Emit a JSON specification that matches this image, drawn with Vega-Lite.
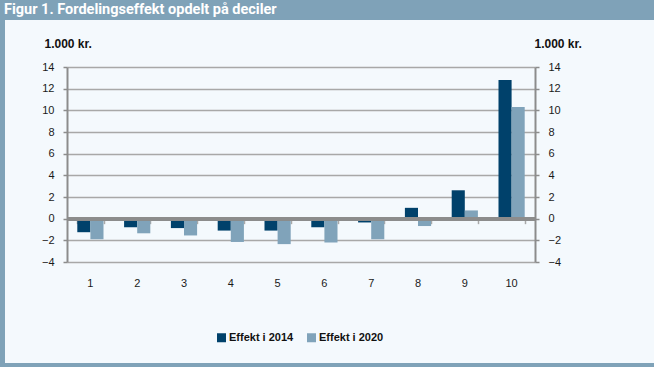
{
  "$schema": "https://vega.github.io/schema/vega-lite/v6.json",
  "background": "#f4f9fd",
  "padding": 0,
  "autosize": {"type": "pad"},
  "config": {
    "view": {"stroke": null},
    "font": "Liberation Sans",
    "axis": {"labelFont": "Liberation Sans", "titleFont": "Liberation Sans"},
    "legend": {"labelFont": "Liberation Sans"}
  },
  "spacing": 0,
  "resolve": {"scale": {"color": "independent"}, "legend": {"color": "independent"}},
  "vconcat": [
    {
      "width": 654,
      "height": 20,
      "view": {"fill": "#7fa2b8", "stroke": null},
      "data": {"values": []},
      "mark": "point",
      "title": {
        "text": "Figur 1. Fordelingseffekt opdelt på deciler",
        "anchor": "start",
        "frame": "group",
        "offset": -17,
        "dx": 4,
        "color": "#ffffff",
        "font": "Roboto",
        "fontSize": 14.5,
        "fontWeight": "bold"
      }
    },
    {
      "spacing": 0,
      "resolve": {"scale": {"color": "independent"}, "legend": {"color": "independent"}},
      "hconcat": [
        {
          "width": 5,
          "height": 343,
          "view": {"fill": "#7fa2b8", "stroke": null},
          "data": {"values": []},
          "mark": "point"
        },
        {
          "width": 36,
          "height": 1,
          "data": {"values": []},
          "mark": "point"
        },
        {
          "spacing": 0,
          "resolve": {"scale": {"color": "independent"}, "legend": {"color": "independent"}},
          "vconcat": [
            {
              "width": 1,
              "height": 17,
              "data": {"values": []},
              "mark": "point"
            },
            {
              "width": 468,
              "height": 195,
              "data": {
                "values": [
                  {"decil": 1, "serie": "Effekt i 2014", "value": -1.25},
                  {"decil": 1, "serie": "Effekt i 2020", "value": -1.9},
                  {"decil": 2, "serie": "Effekt i 2014", "value": -0.8},
                  {"decil": 2, "serie": "Effekt i 2020", "value": -1.35},
                  {"decil": 3, "serie": "Effekt i 2014", "value": -0.87},
                  {"decil": 3, "serie": "Effekt i 2020", "value": -1.55},
                  {"decil": 4, "serie": "Effekt i 2014", "value": -1.1},
                  {"decil": 4, "serie": "Effekt i 2020", "value": -2.15},
                  {"decil": 5, "serie": "Effekt i 2014", "value": -1.1},
                  {"decil": 5, "serie": "Effekt i 2020", "value": -2.35},
                  {"decil": 6, "serie": "Effekt i 2014", "value": -0.8},
                  {"decil": 6, "serie": "Effekt i 2020", "value": -2.2},
                  {"decil": 7, "serie": "Effekt i 2014", "value": -0.35},
                  {"decil": 7, "serie": "Effekt i 2020", "value": -1.9},
                  {"decil": 8, "serie": "Effekt i 2014", "value": 1.0},
                  {"decil": 8, "serie": "Effekt i 2020", "value": -0.68},
                  {"decil": 9, "serie": "Effekt i 2014", "value": 2.62},
                  {"decil": 9, "serie": "Effekt i 2020", "value": 0.76},
                  {"decil": 10, "serie": "Effekt i 2014", "value": 12.8},
                  {"decil": 10, "serie": "Effekt i 2020", "value": 10.3}
                ]
              },
              "layer": [
                {
                  "mark": {"type": "bar", "opacity": 0},
                  "encoding": {
                    "x": {
                      "field": "decil",
                      "type": "ordinal",
                      "scale": {"paddingInner": 0.44, "paddingOuter": 0.22},
                      "axis": {
                        "orient": "bottom",
                        "offset": -43.33,
                        "labels": false,
                        "domain": false,
                        "grid": false,
                        "ticks": true,
                        "tickBand": "extent",
                        "tickSize": 5,
                        "tickWidth": 1.5,
                        "tickColor": "#a8a8a8",
                        "title": null
                      }
                    }
                  }
                },
                {
                  "mark": {"type": "bar"},
                  "encoding": {
                    "x": {
                      "field": "decil",
                      "type": "ordinal",
                      "scale": {"paddingInner": 0.44, "paddingOuter": 0.22},
                      "axis": {
                        "orient": "bottom",
                        "labelAngle": 0,
                        "domain": false,
                        "ticks": false,
                        "tickSize": 0,
                        "grid": false,
                        "labelPadding": 15,
                        "labelFontSize": 11,
                        "labelColor": "#1a1a1a",
                        "title": null
                      }
                    },
                    "xOffset": {
                      "field": "serie",
                      "type": "nominal",
                      "scale": {"paddingInner": 0, "paddingOuter": 0}
                    },
                    "y": {
                      "field": "value",
                      "type": "quantitative",
                      "scale": {"domain": [-4, 14], "nice": false, "zero": false},
                      "axis": {
                        "orient": "left",
                        "values": [-4, -2, 0, 2, 4, 6, 8, 10, 12, 14],
                        "grid": true,
                        "gridColor": "#a8a8a8",
                        "gridWidth": 1.5,
                        "domain": true,
                        "domainColor": "#8c8c8c",
                        "domainWidth": 2,
                        "ticks": true,
                        "tickSize": 4,
                        "tickWidth": 1.5,
                        "tickColor": "#8c8c8c",
                        "labelPadding": 9,
                        "labelFontSize": 11,
                        "labelColor": "#1a1a1a",
                        "title": "1.000 kr.",
                        "titleAngle": 0,
                        "titleAlign": "left",
                        "titleBaseline": "middle",
                        "titleX": -23,
                        "titleY": -24,
                        "titleFontSize": 12,
                        "titleFontWeight": "bold",
                        "titleColor": "#111111"
                      }
                    },
                    "color": {
                      "field": "serie",
                      "type": "nominal",
                      "scale": {
                        "domain": ["Effekt i 2014", "Effekt i 2020"],
                        "range": ["#00416b", "#80a3ba"]
                      },
                      "legend": {
                        "orient": "none",
                        "direction": "horizontal",
                        "legendX": 149,
                        "legendY": 265,
                        "title": null,
                        "symbolType": "square",
                        "symbolSize": 81,
                        "symbolStrokeWidth": 0,
                        "labelFontSize": 11,
                        "labelFontWeight": "bold",
                        "labelColor": "#111111",
                        "labelOffset": 2,
                        "columnPadding": 12
                      }
                    }
                  }
                },
                {
                  "mark": {"type": "rule", "color": "#8c8c8c", "strokeWidth": 3},
                  "encoding": {
                    "y": {
                      "datum": 0,
                      "type": "quantitative",
                      "axis": {
                        "orient": "right",
                        "values": [-4, -2, 0, 2, 4, 6, 8, 10, 12, 14],
                        "grid": false,
                        "domain": true,
                        "domainColor": "#8c8c8c",
                        "domainWidth": 2,
                        "ticks": true,
                        "tickSize": 4,
                        "tickWidth": 1.5,
                        "tickColor": "#8c8c8c",
                        "labelPadding": 9,
                        "labelFontSize": 11,
                        "labelColor": "#1a1a1a",
                        "title": "1.000 kr.",
                        "titleAngle": 0,
                        "titleAlign": "left",
                        "titleBaseline": "middle",
                        "titleX": -1,
                        "titleY": -24,
                        "titleFontSize": 12,
                        "titleFontWeight": "bold",
                        "titleColor": "#111111"
                      }
                    }
                  }
                }
              ],
              "resolve": {"axis": {"x": "independent", "y": "independent"}}
            }
          ]
        },
        {
          "width": 72,
          "height": 1,
          "data": {"values": []},
          "mark": "point"
        },
        {
          "width": 3,
          "height": 343,
          "view": {"fill": "#7fa2b8", "stroke": null},
          "data": {"values": []},
          "mark": "point"
        }
      ]
    },
    {
      "width": 654,
      "height": 4,
      "view": {"fill": "#7fa2b8", "stroke": null},
      "data": {"values": []},
      "mark": "point"
    }
  ]
}
